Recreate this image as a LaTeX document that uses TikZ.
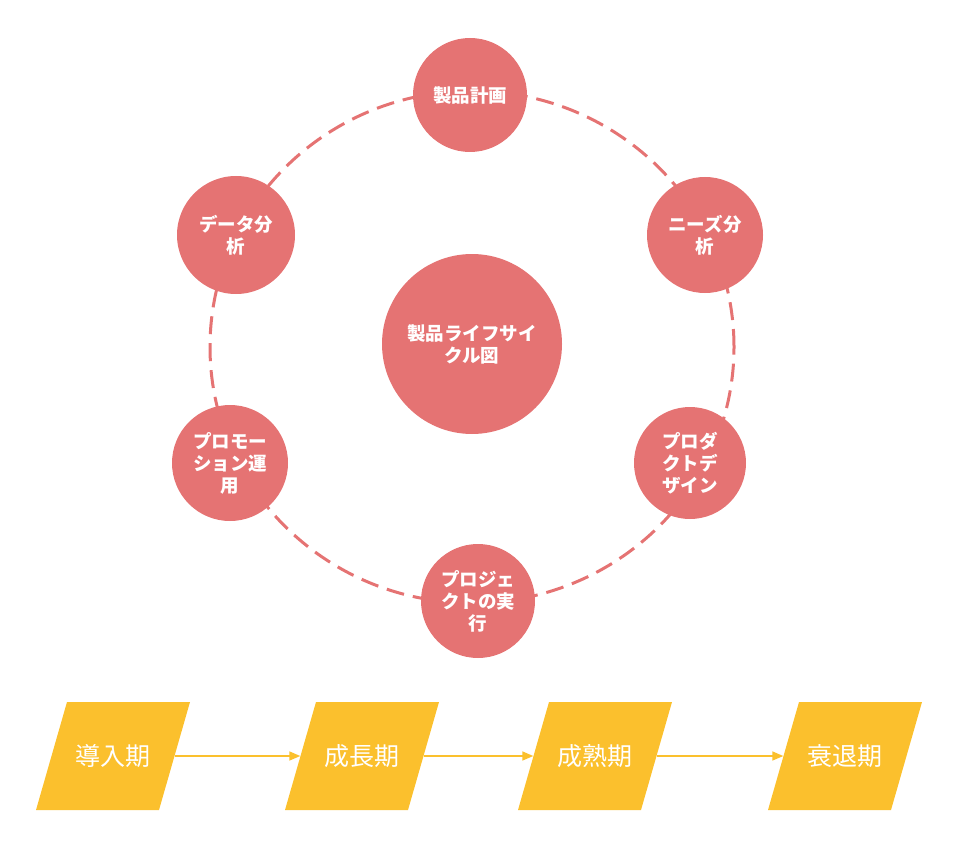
\documentclass[tikz,border=0pt]{standalone}
\usepackage{fontspec}
\newfontfamily\cjk{Noto Sans CJK JP}
\usetikzlibrary{arrows.meta}
\definecolor{cred}{HTML}{E57373}
\definecolor{cyel}{HTML}{FBC02D}
\tikzset{
 circ/.style={circle,fill=cred,text=white,font=\cjk\bfseries\fontsize{18.5}{22}\selectfont,align=center,inner sep=0pt},
 para/.style={rectangle,minimum width=123pt,minimum height=108pt,text=white,font=\cjk\fontsize{25}{29}\selectfont,inner sep=0pt},
 pfill/.style={fill=cyel},
 arr/.style={cyel,line width=1.5pt,-{Triangle[length=11pt,width=9pt]}}
}
\begin{document}
\begin{tikzpicture}[x=1pt,y=-1pt]
\useasboundingbox (0,0) rectangle (958,845);
\draw[cred,line width=3pt,dash pattern=on 18pt off 9pt] (472,347) ellipse (262pt and 256pt);
\node[circ,minimum size=180pt] (c) at (472,344) {製品ライフサイ\\クル図};
\node[circ,minimum size=114pt] (n1) at (470,95) {製品計画};
\node[circ,minimum size=116pt] (n2) at (705,235) {ニーズ分\\析};
\node[circ,minimum size=112pt] (n3) at (690,463) {プロダ\\クトデ\\ザイン};
\node[circ,minimum size=114pt] (n4) at (478,601) {プロジェ\\クトの実\\行};
\node[circ,minimum size=116pt] (n5) at (230,463) {プロモー\\ション運\\用};
\node[circ,minimum size=118pt] (n6) at (236,235) {データ分\\析};
\foreach \n/\x/\t in {p1/113/導入期,p2/362/成長期,p3/595/成熟期,p4/845/衰退期}{
  \fill[pfill] (\x-46,702) -- (\x+77,702) -- (\x+46,810) -- (\x-77,810) -- cycle;
  \node[para] (\n) at (\x,756) {\t};
}
\draw[arr] (p1.east) -- (p2.west);
\draw[arr] (p2.east) -- (p3.west);
\draw[arr] (p3.east) -- (p4.west);
\end{tikzpicture}
\end{document}
